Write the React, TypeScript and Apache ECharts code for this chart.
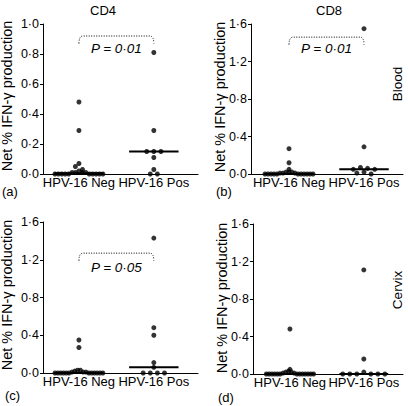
import React, { useEffect, useRef } from "react";
import * as echarts from "echarts";

// ---------------- data ----------------
const groups = ["HPV-16 Neg", "HPV-16 Pos"];
const panelTitles = ["CD4", "CD8", "", ""];
const panelLetters = ["(a)", "(b)", "(c)", "(d)"];
const rowLabels = ["Blood", "Cervix"];
const yTitle = "Net % IFN-\u03b3 production";
const yMax = [1.0, 1.6, 1.6, 1.6];
const yStep = [0.2, 0.4, 0.4, 0.4];

const cd4BloodNeg = [0.48, 0.29, 0.07, 0.05, 0.03, 0.02, 0.01, 0.01, 0.01, 0.01, 0, 0, 0, 0, 0, 0, 0, 0, 0, 0];
const cd4BloodPos = [0.81, 0.29, 0.15, 0.15, 0.15, 0.11, 0.03, 0, 0];
const cd8BloodNeg = [0.27, 0.12, 0.05, 0.02, 0.02, 0.02, 0.01, 0.01, 0.01, 0, 0, 0, 0, 0, 0, 0, 0, 0, 0, 0];
const cd8BloodPos = [1.55, 0.29, 0.07, 0.06, 0.05, 0.05, 0.02, 0.01, 0];
const cd4CervixNeg = [0.35, 0.27, 0.03, 0.03, 0.02, 0.01, 0.01, 0.01, 0, 0, 0, 0, 0, 0, 0, 0, 0, 0, 0, 0];
const cd4CervixPos = [1.43, 0.48, 0.4, 0.11, 0.06, 0, 0, 0, 0];
const cd8CervixNeg = [0.48, 0.05, 0.03, 0.02, 0.02, 0.01, 0.01, 0, 0, 0, 0, 0, 0, 0, 0, 0, 0, 0, 0, 0];
const cd8CervixPos = [1.11, 0.16, 0.02, 0, 0, 0, 0, 0, 0];

const negValues = [cd4BloodNeg, cd8BloodNeg, cd4CervixNeg, cd8CervixNeg];
const posValues = [cd4BloodPos, cd8BloodPos, cd4CervixPos, cd8CervixPos];
const pLabels = ["P = 0\u00b701", "P = 0\u00b701", "P = 0\u00b705", ""];

// ---------------- layout ----------------
const FONT = "'Liberation Sans', Arial, Helvetica, sans-serif";
const panels = [
  { left: 43, top: 24, width: 155, height: 150, xMin: -0.48, xMax: 1.59 },
  { left: 251, top: 24, width: 152, height: 150, xMin: -0.507, xMax: 1.52 },
  { left: 43, top: 222, width: 155, height: 151, xMin: -0.48, xMax: 1.59 },
  { left: 253, top: 224, width: 150, height: 150, xMin: -0.5, xMax: 1.53 },
];
// bracket: [top, end, text] in axis units
const bracketPos = [
  [0.92, 0.87, 0.835],
  [1.46, 1.38, 1.34],
  [1.27, 1.19, 1.12],
  null,
];
const SPACING = 0.095;
const MAX_HALF = 0.32;
const MEDIAN_HALF = 0.33;

function median(v: number[]) {
  const s = [...v].sort((a, b) => a - b);
  const n = s.length;
  return n % 2 ? s[(n - 1) / 2] : (s[n / 2 - 1] + s[n / 2]) / 2;
}

function swarm(values: number[], center: number, tol: number): number[][] {
  const sorted = [...values].sort((a, b) => a - b);
  const bins: number[][] = [];
  let cur: number[] = [];
  let start = -Infinity;
  for (const v of sorted) {
    if (cur.length && v - start <= tol) cur.push(v);
    else {
      if (cur.length) bins.push(cur);
      cur = [v];
      start = v;
    }
  }
  if (cur.length) bins.push(cur);
  const pts: number[][] = [];
  for (const bin of bins) {
    const k = bin.length;
    const s = k > 1 ? Math.min(SPACING, (2 * MAX_HALF) / (k - 1)) : 0;
    const slots = Array.from({ length: k }, (_, i) => (i - (k - 1) / 2) * s);
    const order = slots
      .map((_, i) => i)
      .sort((i, j) => Math.abs(slots[i]) - Math.abs(slots[j]) || slots[i] - slots[j]);
    const desc = [...bin].sort((a, b) => b - a);
    desc.forEach((v, idx) => pts.push([center + slots[order[idx]], v]));
  }
  return pts;
}

export default function App() {
  const ref = useRef<HTMLDivElement>(null);
  useEffect(() => {
    if (!ref.current) return;
    const chart = echarts.init(ref.current, null, { renderer: "svg" });

    const series: any[] = [];
    panels.forEach((p, i) => {
      const tol = (4 / p.height) * yMax[i];
      series.push({
        type: "scatter",
        xAxisIndex: i,
        yAxisIndex: i,
        symbol: "circle",
        symbolSize: 5,
        clip: false,
        silent: true,
        itemStyle: { color: "#000" },
        data: [...swarm(negValues[i], 0, tol), ...swarm(posValues[i], 1, tol)],
      });
      series.push({
        type: "custom",
        xAxisIndex: i,
        yAxisIndex: i,
        silent: true,
        data: [
          [0, median(negValues[i])],
          [1, median(posValues[i])],
        ],
        renderItem: (_params: any, api: any) => {
          const c = api.value(0);
          const m = api.value(1);
          const a = api.coord([c - MEDIAN_HALF, m]);
          const b = api.coord([c + MEDIAN_HALF, m]);
          return {
            type: "line",
            shape: { x1: a[0], y1: a[1], x2: b[0], y2: b[1] },
            style: { stroke: "#000", lineWidth: 2 },
          };
        },
      });
      const bp = bracketPos[i];
      if (bp && pLabels[i]) {
        series.push({
          type: "custom",
          xAxisIndex: i,
          yAxisIndex: i,
          silent: true,
          data: [[0, 1, bp[0], bp[1], bp[2]]],
          encode: { x: [0, 1], y: [2, 3, 4] },
          renderItem: (_params: any, api: any) => {
            const x1 = api.value(0);
            const x2 = api.value(1);
            const top = api.value(2);
            const end = api.value(3);
            const ty = api.value(4);
            const a = api.coord([x1, end]);
            const at = api.coord([x1, top]);
            const b = api.coord([x2, end]);
            const bt = api.coord([x2, top]);
            const r = 4;
            const d = `M${a[0]},${a[1]} Q${at[0]},${at[1]} ${at[0] + r},${at[1]} L${bt[0] - r},${bt[1]} Q${bt[0]},${bt[1]} ${b[0]},${b[1]}`;
            const tc = api.coord([(x1 + x2) / 2, ty]);
            return {
              type: "group",
              children: [
                {
                  type: "path",
                  shape: { pathData: d },
                  style: { stroke: "#000", fill: null, lineWidth: 1, lineDash: [1, 1.5] },
                },
                {
                  type: "text",
                  x: tc[0],
                  y: tc[1],
                  style: {
                    text: pLabels[i],
                    fontFamily: FONT,
                    fontSize: 13.5,
                    fontStyle: "italic",
                    fill: "#000",
                    textAlign: "center",
                    textVerticalAlign: "middle",
                  },
                },
              ],
            };
          },
        });
      }
    });

    const txt = (text: string, x: number, y: number, size: number, rot = 0, align = "center") => ({
      type: "text",
      x,
      y,
      rotation: rot,
      silent: true,
      style: {
        text,
        fontFamily: FONT,
        fontSize: size,
        fill: "#000",
        textAlign: align,
        textVerticalAlign: "middle",
      },
    });

    const graphic: any[] = [
      txt(panelTitles[0], 103, 10, 13),
      txt(panelTitles[1], 329, 10, 13),
      txt(yTitle, 7, 96, 14.5, Math.PI / 2),
      txt(yTitle, 220, 97, 14.5, Math.PI / 2),
      txt(yTitle, 7, 295, 14.5, Math.PI / 2),
      txt(yTitle, 222, 298, 14.5, Math.PI / 2),
      txt(rowLabels[0], 397, 84, 13.5, Math.PI / 2),
      txt(rowLabels[1], 397, 290, 13.5, Math.PI / 2),
      txt(panelLetters[0], 2, 191, 13, 0, "left"),
      txt(panelLetters[1], 216, 191, 13, 0, "left"),
      txt(panelLetters[2], 5, 395, 13, 0, "left"),
      txt(panelLetters[3], 218, 397, 13, 0, "left"),
    ];

    chart.setOption({
      animation: false,
      textStyle: { fontFamily: FONT, color: "#000" },
      grid: panels.map((p) => ({ left: p.left, top: p.top, width: p.width, height: p.height })),
      xAxis: panels.map((p, i) => ({
        gridIndex: i,
        type: "value",
        min: p.xMin,
        max: p.xMax,
        axisLine: { show: true, onZero: false, lineStyle: { color: "#000", width: 1 } },
        axisTick: { show: false },
        splitLine: { show: false },
        axisLabel: {
          customValues: [0, 1],
          formatter: (v: number) => groups[Math.round(v)],
          color: "#000",
          fontFamily: FONT,
          fontSize: 13,
          margin: 2,
        },
      })),
      yAxis: panels.map((p, i) => ({
        gridIndex: i,
        type: "value",
        min: 0,
        max: yMax[i],
        interval: yStep[i],
        axisLine: { show: true, onZero: false, lineStyle: { color: "#000", width: 1 } },
        axisTick: { show: true, length: 3, lineStyle: { color: "#000" } },
        splitLine: { show: false },
        axisLabel: {
          formatter: (v: number) => v.toFixed(1).replace(".", "\u00b7"),
          color: "#000",
          fontFamily: FONT,
          fontSize: 12.5,
          margin: 4,
        },
      })),
      series,
      graphic,
    });
    return () => chart.dispose();
  }, []);
  return <div ref={ref} style={{ width: 408, height: 406, position: "absolute", left: 0, top: 0 }} />;
}
